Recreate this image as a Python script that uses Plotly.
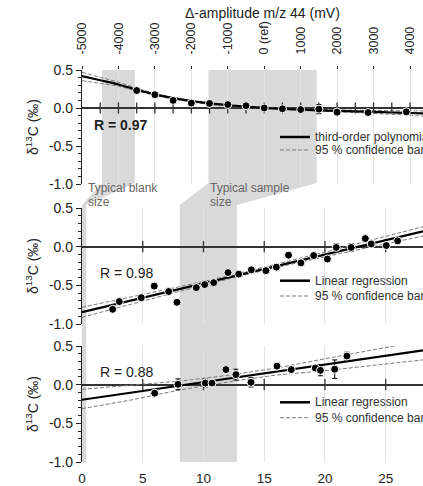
import plotly.graph_objects as go

# ---------------- data ----------------
AMP_TICKS = [-5000, -4000, -3000, -2000, -1000, 0, 1000, 2000, 3000, 4000]
AMP_TICKTEXT = ["-5000", "-4000", "-3000", "-2000", "-1000", "0 (ref)", "1000", "2000", "3000", "4000"]
AMP_ZERO_TICKS = [-4500, -4000, -3500, -3000, -2500, -2000, -1500, -1000, -500,
                  0, 500, 1000, 1500, 2000, 2500, 3000, 3500, 4000]
X_TICKS = [0, 5, 10, 15, 20, 25]
X_ZERO_TICKS = [5, 10, 15, 20, 25]
Y_TICKS = [-1.0, -0.5, 0.0, 0.5]
Y_TICKTEXT = ["-1.0", "-0.5", "0.0", "0.5"]

# top panel: delta amplitude (mV) vs d13C
top_amp = [-3500, -3000, -2500, -2000, -1500, -1000, -500, 0, 500, 1000, 1500, 2000, 2850, 3900]
top_d13c = [0.23, 0.175, 0.10, 0.065, 0.06, 0.045, 0.03, 0.0, -0.01, -0.02, -0.015, -0.055, -0.06, -0.05]
top_err = [0, 0, 0, 0, 0, 0, 0, 0, 0.02, 0, 0.06, 0, 0, 0]

poly_amp = [-5000, -4500, -4000, -3500, -3000, -2500, -2000, -1500, -1000, -500,
            0, 500, 1000, 1500, 2000, 2500, 3000, 3500, 4000, 4357]
poly_fit = [0.42, 0.365, 0.31, 0.24, 0.18, 0.13, 0.09, 0.06, 0.037, 0.017,
            0.0, -0.012, -0.022, -0.03, -0.038, -0.045, -0.052, -0.059, -0.066, -0.072]
poly_upper = [0.47, 0.405, 0.34, 0.26, 0.195, 0.14, 0.10, 0.07, 0.047, 0.027,
              0.01, -0.002, -0.012, -0.018, -0.025, -0.03, -0.033, -0.035, -0.037, -0.038]
poly_lower = [0.36, 0.325, 0.285, 0.225, 0.167, 0.12, 0.08, 0.05, 0.027, 0.007,
              -0.01, -0.022, -0.032, -0.042, -0.051, -0.06, -0.071, -0.083, -0.095, -0.106]

# middle panel
mid_x = [2.52, 3.07, 4.88, 5.95, 7.13, 7.82, 9.41, 10.1, 10.84, 12.02, 12.9, 13.94,
         15.14, 16.0, 17.0, 18.02, 19.07, 20.2, 20.93, 22.16, 23.32, 23.81, 25.05, 25.98]
mid_d13c = [-0.81, -0.71, -0.66, -0.51, -0.58, -0.72, -0.53, -0.49, -0.465, -0.335, -0.355, -0.30,
            -0.31, -0.265, -0.11, -0.21, -0.115, -0.16, -0.01, -0.01, 0.105, 0.035, 0.015, 0.075]
mid_err = [0] * 18 + [0.05, 0.05, 0, 0, 0, 0]
mid_fit_x = [0, 28.07]
mid_fit = [-0.848, 0.198]
band_x = [0, 4, 8, 12, 16, 20, 24, 28.07]
mid_upper = [-0.783, -0.654, -0.519, -0.38, -0.23, -0.071, 0.093, 0.258]
mid_lower = [-0.913, -0.744, -0.579, -0.42, -0.27, -0.131, 0.003, 0.138]

# bottom panel
bot_x = [5.98, 7.9, 10.15, 10.7, 11.85, 12.67, 13.91, 16.05, 17.23, 19.2, 19.62, 20.8, 21.81]
bot_d13c = [-0.11, 0.005, 0.02, 0.02, 0.195, 0.13, 0.03, 0.24, 0.195, 0.215, 0.185, 0.2, 0.37]
bot_err = [0, 0.07, 0.05, 0, 0.03, 0.07, 0.06, 0, 0, 0.03, 0.07, 0.12, 0.05]
bot_fit_x = [0, 28.07]
bot_fit = [-0.195, 0.444]
bot_upper = [-0.06, -0.005, 0.045, 0.12, 0.215, 0.335, 0.45, 0.57]
bot_lower = [-0.31, -0.2, -0.07, 0.035, 0.125, 0.18, 0.25, 0.32]

# shaded "typical size" regions (top band in mV, lower panels in x units)
blank_top_mv = [-4450, -3550]
blank_low_x = [0.0, 0.35]
sample_top_mv = [-1530, 1440]
sample_low_x = [8.05, 12.75]

# ---------------- layout constants ----------------
W, H = 423, 486
ML, MR, MT, MB = 82, 0, 70, 24
X_MAX = 28.07
MV_PER_UNIT = 1000.0 / 3.0
U_REF = 15.0
def mv_to_u(mv):
    return U_REF + mv / MV_PER_UNIT
AMP_RANGE = [(0 - U_REF) * MV_PER_UNIT, (X_MAX - U_REF) * MV_PER_UNIT]

PH = H - MT - MB
def py(Y):  # pixel y -> paper
    return (H - MB - Y) / PH
def px(X):
    return (X - ML) / (W - ML - MR)

D_TOP = [py(184), 1.0]
D_MID = [py(324), py(208)]
D_BOT = [0.0, py(346)]

FONT = "Arial, Liberation Sans, sans-serif"
DARK = "#222"
GRID = "#e3e3e3"
BANDC = "#7a7a7a"
SHADE = "#d9d9d9"

fig = go.Figure()

marker = dict(color="black", size=8, line=dict(color="white", width=1))
errstyle = dict(type="data", visible=True, color="black", thickness=1, width=2.5)

def add_panel(xs, ys, errs, fx, fy, bx, bu, bl, xa, ya, zero_ticks, spline=False):
    shape = "spline" if spline else "linear"
    fig.add_trace(go.Scatter(x=bx, y=bu, mode="lines", xaxis=xa, yaxis=ya,
                             line=dict(color=BANDC, width=1, dash="4px,2px", shape=shape),
                             hoverinfo="skip", showlegend=False))
    fig.add_trace(go.Scatter(x=bx, y=bl, mode="lines", xaxis=xa, yaxis=ya,
                             line=dict(color=BANDC, width=1, dash="4px,2px", shape=shape),
                             hoverinfo="skip", showlegend=False))
    fig.add_trace(go.Scatter(x=fx, y=fy, mode="lines", xaxis=xa, yaxis=ya,
                             line=dict(color="black", width=2.2, shape=shape),
                             hoverinfo="skip", showlegend=False))
    fig.add_trace(go.Scatter(x=zero_ticks, y=[0] * len(zero_ticks), mode="markers",
                             xaxis=xa, yaxis=ya,
                             marker=dict(symbol="line-ns", size=8,
                                         line=dict(color="#333", width=1.3)),
                             hoverinfo="skip", showlegend=False))
    fig.add_trace(go.Scatter(x=xs, y=ys, mode="markers", xaxis=xa, yaxis=ya,
                             marker=marker, error_y=dict(array=errs, **errstyle),
                             showlegend=False))

add_panel(top_amp, top_d13c, top_err, poly_amp, poly_fit, poly_amp, poly_upper, poly_lower,
          "x", "y", AMP_ZERO_TICKS, spline=True)
add_panel(mid_x, mid_d13c, mid_err, mid_fit_x, mid_fit, band_x, mid_upper, mid_lower,
          "x2", "y2", X_ZERO_TICKS)
add_panel(bot_x, bot_d13c, bot_err, bot_fit_x, bot_fit, band_x, bot_upper, bot_lower,
          "x3", "y3", X_ZERO_TICKS)

yax = dict(range=[-1.0, 0.5], tickvals=Y_TICKS, ticktext=Y_TICKTEXT,
           showline=True, linecolor=DARK, linewidth=1.3,
           ticks="outside", ticklen=5, tickwidth=1, tickcolor=DARK,
           minor=dict(dtick=0.1, ticks="outside", ticklen=3, tickwidth=1, tickcolor=DARK),
           showgrid=False, zeroline=True, zerolinecolor="#333", zerolinewidth=1.5,
           tickfont=dict(size=14, color=DARK), fixedrange=True)

fig.update_layout(
    width=W, height=H,
    margin=dict(l=ML, r=MR, t=MT, b=MB),
    paper_bgcolor="white", plot_bgcolor="rgba(0,0,0,0)",
    font=dict(family=FONT, color=DARK),
    showlegend=False,
    xaxis=dict(domain=[0, 1], anchor="y", side="top", range=AMP_RANGE,
               tickvals=AMP_TICKS, ticktext=AMP_TICKTEXT, tickangle=-90,
               ticks="outside", ticklen=3, tickcolor=DARK, ticklabelstandoff=9,
               showgrid=True, gridcolor=GRID, gridwidth=1, zeroline=False,
               showline=False, tickfont=dict(size=12.5, color=DARK)),
    xaxis2=dict(domain=[0, 1], anchor="y2", range=[0, X_MAX], tickvals=X_TICKS,
                showticklabels=False, ticks="", showgrid=True, gridcolor=GRID,
                zeroline=False, showline=False),
    xaxis3=dict(domain=[0, 1], anchor="y3", range=[0, X_MAX], tickvals=X_TICKS,
                ticks="outside", ticklen=4, tickcolor="rgba(0,0,0,0)",
                showgrid=True, gridcolor=GRID, zeroline=False, showline=False,
                tickfont=dict(size=13.5, color=DARK)),
    yaxis=dict(domain=D_TOP, anchor="x", **yax),
    yaxis2=dict(domain=D_MID, anchor="x2", **yax),
    yaxis3=dict(domain=D_BOT, anchor="x3", **yax),
)

# shaded funnels
y_top_bottom = py(183)
y_slant_end = py(205)
def funnel(top_mv, low_x):
    a, b = mv_to_u(top_mv[0]), mv_to_u(top_mv[1])
    c, d = low_x
    return (f"M {a},1 L {b},1 L {b},{y_top_bottom} L {d},{y_slant_end} L {d},0 "
            f"L {c},0 L {c},{y_slant_end} L {a},{y_top_bottom} Z")

for tm, lx in [(blank_top_mv, blank_low_x), (sample_top_mv, sample_low_x)]:
    fig.add_shape(type="path", path=funnel(tm, lx), xref="x3", yref="paper",
                  fillcolor=SHADE, line=dict(width=0), layer="below")

ann = []
ann.append(dict(text="Δ-amplitude m/z 44 (mV)", x=px(262), y=py(13), xref="paper", yref="paper",
                xanchor="center", yanchor="middle", showarrow=False,
                font=dict(size=14, color=DARK)))
for yc in [127, 266, 404]:
    ann.append(dict(text="δ<sup>13</sup>C (‰)", x=px(32), y=py(yc), xref="paper", yref="paper",
                    xanchor="center", yanchor="middle", textangle=-90, showarrow=False,
                    font=dict(size=14, color=DARK)))
ann.append(dict(text="<b>R = 0.97</b>", x=px(120.5), y=py(125), xref="paper", yref="paper",
                showarrow=False, xanchor="center", yanchor="middle", font=dict(size=14, color=DARK)))
ann.append(dict(text="R = 0.98", x=px(126.5), y=py(272.7), xref="paper", yref="paper",
                showarrow=False, xanchor="center", yanchor="middle", font=dict(size=14, color=DARK)))
ann.append(dict(text="R = 0.88", x=px(126.5), y=py(372.3), xref="paper", yref="paper",
                showarrow=False, xanchor="center", yanchor="middle", font=dict(size=14, color=DARK)))

for label, X, Y in [("Typical blank", 86, 187.7), ("size", 86, 202),
                    ("Typical sample", 208, 187.7), ("size", 208, 202)]:
    ann.append(dict(text=label, x=px(X), y=py(Y), xref="paper", yref="paper",
                    showarrow=False, xanchor="left", yanchor="middle",
                    font=dict(size=12, color="#666")))

legends = [("third-order polynomial", 137, 150),
           ("Linear regression", 280.7, 296),
           ("Linear regression", 402.3, 417.7)]
for lab, ys, yd in legends:
    fig.add_shape(type="line", xref="paper", yref="paper", x0=px(280), x1=px(310),
                  y0=py(ys), y1=py(ys), line=dict(color="black", width=2.5))
    fig.add_shape(type="line", xref="paper", yref="paper", x0=px(280), x1=px(310),
                  y0=py(yd), y1=py(yd), line=dict(color=BANDC, width=1, dash="4px,2px"))
    ann.append(dict(text=lab, x=px(313), y=py(ys), xref="paper", yref="paper",
                    showarrow=False, xanchor="left", yanchor="middle",
                    font=dict(size=12, color="#333")))
    ann.append(dict(text="95 % confidence band", x=px(313), y=py(yd), xref="paper", yref="paper",
                    showarrow=False, xanchor="left", yanchor="middle",
                    font=dict(size=12, color="#333")))

fig.update_layout(annotations=ann)
fig.write_html("out.html")
